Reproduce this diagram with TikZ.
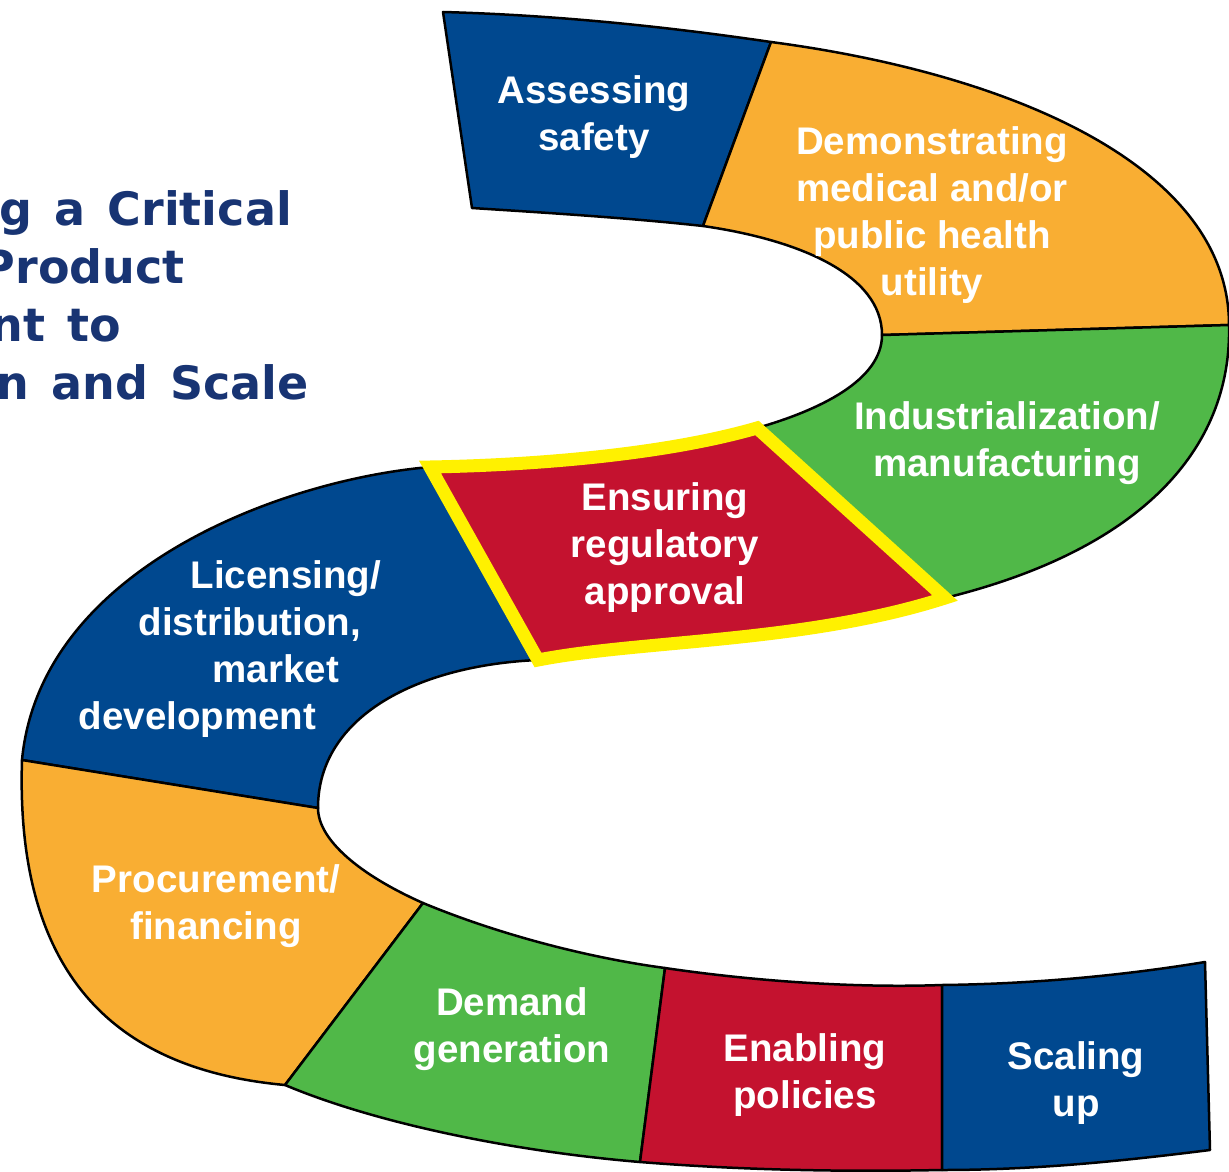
\documentclass[tikz,border=0pt]{standalone}
\usepackage{fontspec}
\newfontfamily\labelfont{Liberation Sans}
\newfontfamily\headfont{DejaVu Sans}
\definecolor{bandblue}{HTML}{00488F}
\definecolor{bandorange}{HTML}{F9AE33}
\definecolor{bandgreen}{HTML}{50B848}
\definecolor{bandred}{HTML}{C4122F}
\definecolor{hiyellow}{HTML}{FFF100}
\definecolor{titleblue}{HTML}{183473}
\tikzset{
  seg/.style={draw=black, line width=2.5pt, line join=round},
  lbl/.style={text=white, font={\labelfont\bfseries\fontsize{38.5}{47}\selectfont},
              align=center, inner sep=0pt, anchor=north},
  head/.style={text=titleblue,
               font={\headfont\bfseries\fontsize{46}{58}\selectfont\spaceskip=22pt\relax},
               inner sep=0pt, anchor=base east},
}
\begin{document}
\begin{tikzpicture}[x=1pt,y=-1pt]
\useasboundingbox (0,0) rectangle (1229,1172);
\fill[white] (0,0) rectangle (1229,1172);

% corner points of the S-shaped band: a = one edge, b = the other
\coordinate (a0) at (443,12);   \coordinate (a1) at (771,42);
\coordinate (a2) at (1229,325); \coordinate (a3) at (945,598);
\coordinate (a4) at (538,660);  \coordinate (a5) at (318,808);
\coordinate (a6) at (423,903);  \coordinate (a7) at (665,968);
\coordinate (a8) at (942,985);  \coordinate (a9) at (1205,962);
\coordinate (b0) at (472,208);  \coordinate (b1) at (703,226);
\coordinate (b2) at (882,335);  \coordinate (b3) at (757,428);
\coordinate (b4) at (430,467);  \coordinate (b5) at (22,760);
\coordinate (b6) at (285,1085); \coordinate (b7) at (640,1162);
\coordinate (b8) at (942,1170); \coordinate (b9) at (1210,1150);

% Assessing safety
\path[seg, fill=bandblue] (a0) .. controls (553,15) and (662,26) .. (a1)
  -- (b1) .. controls (630,218) and (550,213) .. (b0) -- cycle;
% Demonstrating utility
\path[seg, fill=bandorange] (a1) .. controls (1020,75) and (1229,170) .. (a2)
  -- (b2) .. controls (882,275) and (800,240) .. (b1) -- cycle;
% Industrialization
\path[seg, fill=bandgreen] (a2) .. controls (1232,450) and (1140,550) .. (a3)
  -- (b3) .. controls (820,410) and (882,380) .. (b2) -- cycle;
% Licensing / distribution
\path[seg, fill=bandblue] (b4) -- (a4) .. controls (420,665) and (318,715) .. (a5)
  -- (b5) .. controls (40,570) and (280,480) .. (b4) -- cycle;
% Procurement / financing
\path[seg, fill=bandorange] (b5) -- (a5) .. controls (318,840) and (360,875) .. (a6)
  -- (b6) .. controls (120,1070) and (15,980) .. (b5) -- cycle;
% Demand generation
\path[seg, fill=bandgreen] (a6) .. controls (500,935) and (590,958) .. (a7)
  -- (b7) .. controls (520,1152) and (380,1125) .. (b6) -- cycle;
% Enabling policies
\path[seg, fill=bandred] (a7) .. controls (760,982) and (860,988) .. (a8)
  -- (b8) .. controls (840,1172) and (740,1170) .. (b7) -- cycle;
% Scaling up
\path[seg, fill=bandblue] (a8) .. controls (1030,984) and (1120,976) .. (a9)
  -- (b9) .. controls (1130,1160) and (1040,1170) .. (b8) -- cycle;
% Ensuring regulatory approval, highlighted
\path[fill=bandred, draw=hiyellow, line width=13pt, line join=miter]
  (b3) -- (a3) .. controls (805,643) and (640,640) .. (a4)
  -- (b4) .. controls (540,465) and (667,454) .. (b3) -- cycle;

% step labels
\node[lbl] (assess) at (594,75) {Assessing\\safety};
\node[lbl] (demo) at (932,126) {Demonstrating\\medical and/or\\public health\\utility};
\node[lbl] (indus) at (1007,401) {Industrialization/\\manufacturing};
\node[lbl] (regul) at (665,482) {Ensuring\\regulatory\\approval};
\node[lbl, anchor=north west, align=left] (licen) at (78.5,560)
  {\hspace*{112pt}Licensing/\\\hspace*{60pt}distribution,\\\hspace*{134pt}market\\development};
\node[lbl] (procu) at (216,864) {Procurement/\\financing};
\node[lbl] (deman) at (512,987) {Demand\\generation};
\node[lbl] (enabl) at (805,1033) {Enabling\\policies};
\node[lbl] (scale) at (1076,1041) {Scaling\\up};

% heading
\node[head] (t1) at (292,225) {g a Critical};
\node[head] (t2) at (185,283) {Product};
\node[head] (t3) at (121,341) {nt to};
\node[head] (t4) at (309,399) {n and Scale};
\end{tikzpicture}
\end{document}
